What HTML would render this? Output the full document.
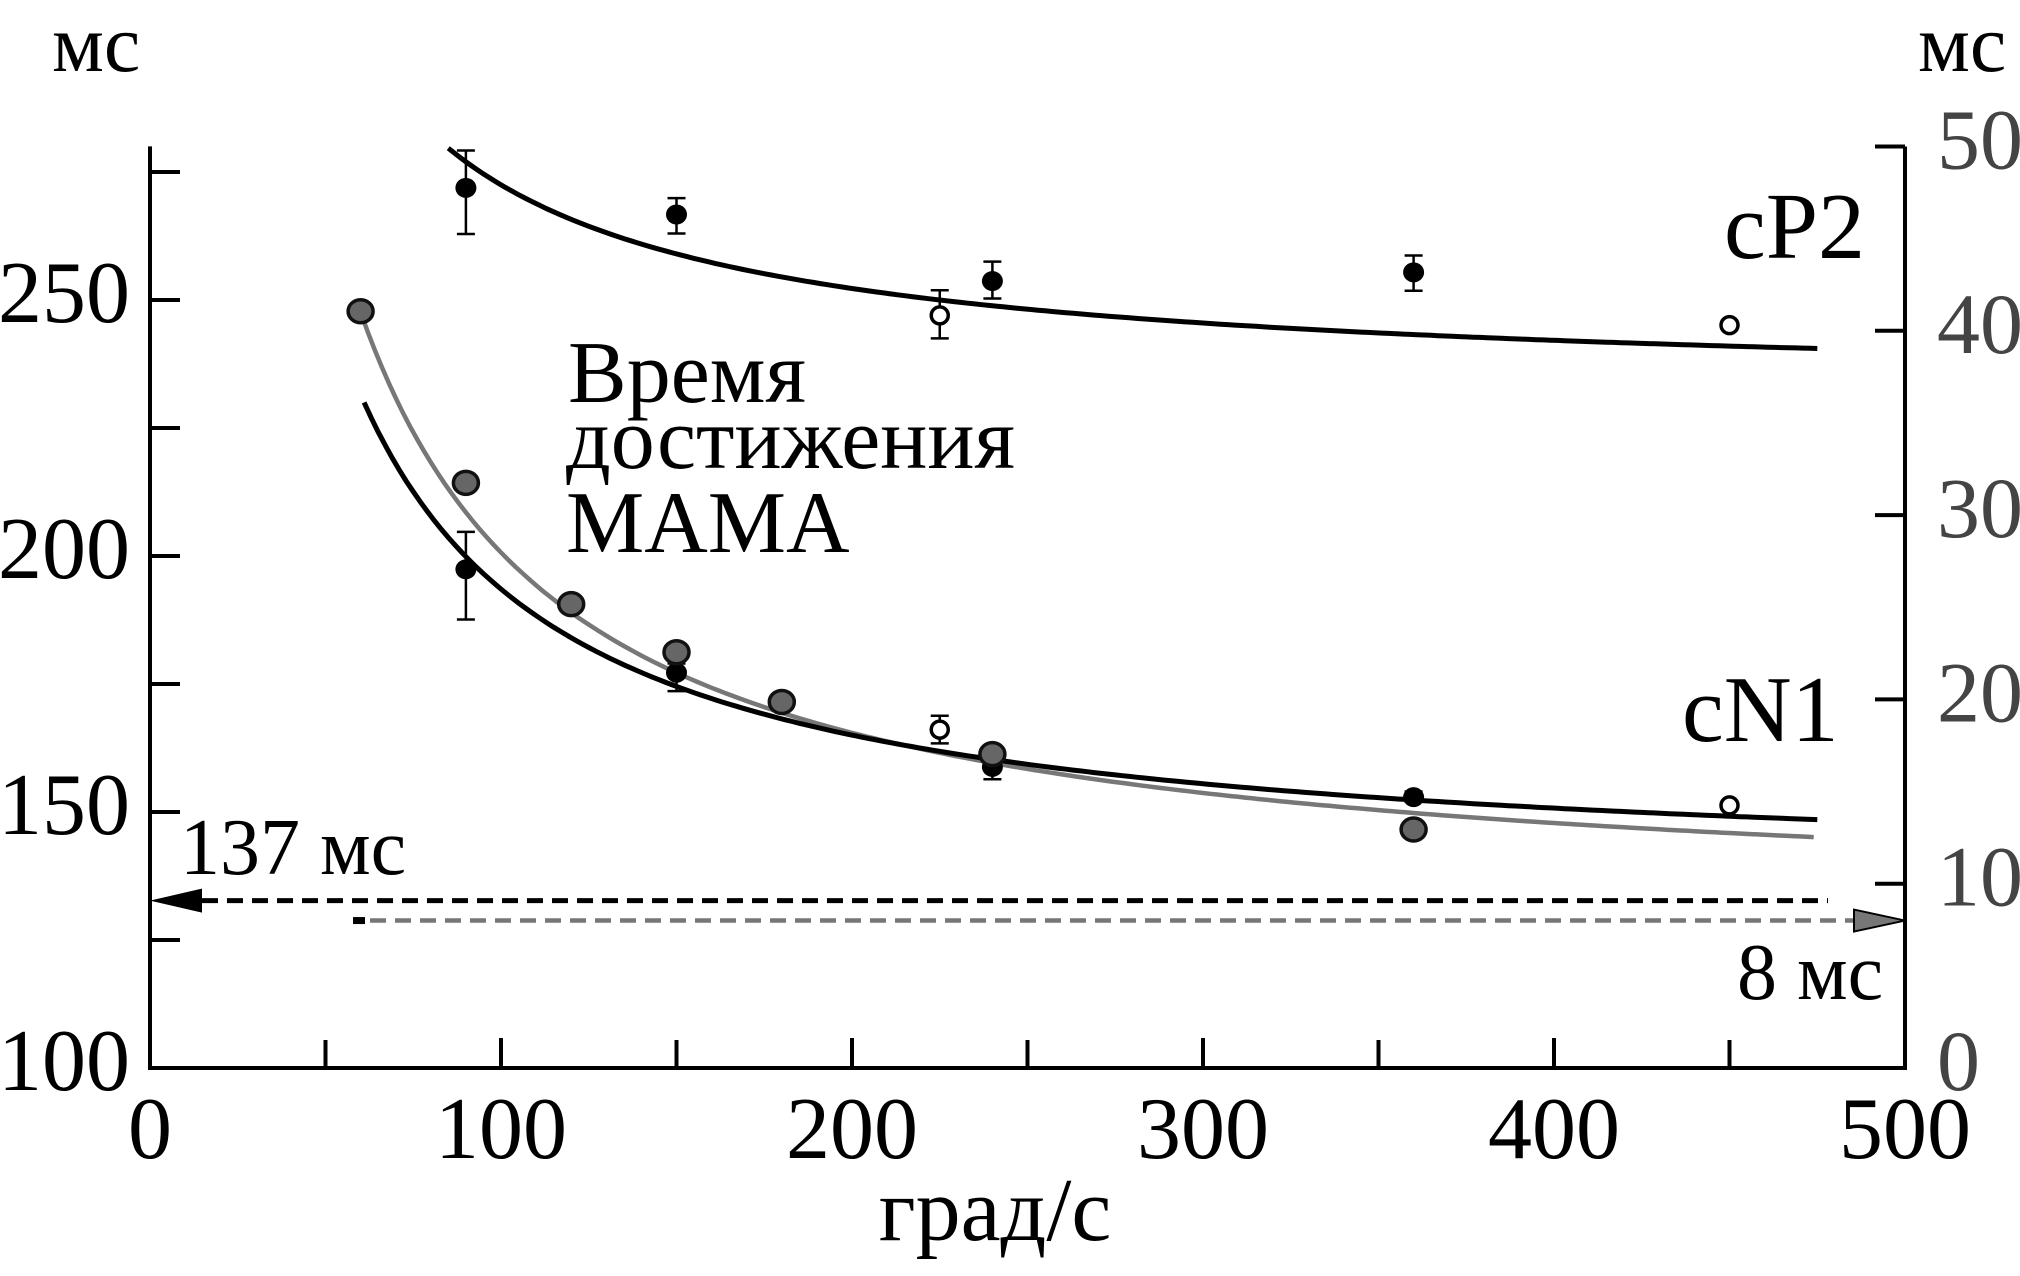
<!DOCTYPE html>
<html><head><meta charset="utf-8"><style>
html,body{margin:0;padding:0;background:#fff;}
svg{display:block;}
text{font-family:"Liberation Serif","DejaVu Serif",serif;}
</style></head>
<body>
<svg id="chart" width="2020" height="1276" viewBox="0 0 2020 1276" xmlns="http://www.w3.org/2000/svg">
<g id="axes"></g>
<g id="curves"></g>
<g id="marks"></g>
<text x="52" y="71" font-size="82">мс</text>
<text x="1918" y="71" font-size="82">мс</text>
<text x="995" y="1240" font-size="90" text-anchor="middle">град/с</text>
<text x="1724" y="258" font-size="94">cP2</text>
<text x="1682" y="741" font-size="94">cN1</text>
<text x="568" y="402" font-size="88">Время</text>
<text x="566" y="468" font-size="88">достижения</text>
<text x="566" y="552" font-size="88">МАМА</text>
<text x="180" y="874" font-size="80">137 мс</text>
<text x="1737" y="999" font-size="80">8 мс</text>
</svg>
<script>
// data
const xTicks = [0,100,200,300,400,500];
const xMinor = [50,150,250,350,450];
const yLeftTicks = [100,150,200,250];
const yLeftMinor = [125,175,225,275];
const yRightTicks = [0,10,20,30,40,50];
const cp2FilledX = [90,150,240,360];
const cp2FilledY = [271.9,266.7,253.7,255.4];
const cp2FilledLo = [262.9,263.0,250.3,251.8];
const cp2FilledHi = [279.2,269.9,257.5,258.7];
const cp2OpenX = [225,450];
const cp2OpenY = [247.0,245.1];
const cp2OpenLo = [242.5,245.1];
const cp2OpenHi = [251.9,245.1];
const cn1FilledX = [90,150,240,360];
const cn1FilledY = [197.4,177.2,158.8,152.9];
const cn1FilledLo = [187.6,173.6,156.4,152.0];
const cn1FilledHi = [204.7,179.0,160.9,154.0];
const cn1OpenX = [225,450];
const cn1OpenY = [166.1,151.3];
const cn1OpenLo = [163.4,151.3];
const cn1OpenHi = [168.8,151.3];
const grayX = [60,90,120,150,180,240,360];
const grayY = [41.06,31.75,25.17,22.56,19.86,17.03,12.94]; // right axis (ms)
const cp2Fit = [232.0,4050]; // a + b/x, left axis
const cn1Fit = [136.5,5704];
const grayFit = [8.4,1957];  // right axis
const cp2Range = [85,475];
const cn1Range = [61,475];
const grayRange = [60,475];
const asymLeft = 132.7;
const asymRight = 8;

const NS="http://www.w3.org/2000/svg";
const X0=150, XS=3.51, YB=1068, YL=5.12, YR=18.43;
const sx=v=>X0+v*XS;
const syL=v=>YB-(v-100)*YL;
const syR=v=>YB-v*YR;
function mk(parent,tag,attrs){const e=document.createElementNS(NS,tag);for(const k in attrs)e.setAttribute(k,attrs[k]);parent.appendChild(e);return e;}
const axes=document.getElementById('axes');
const curves=document.getElementById('curves');
const marks=document.getElementById('marks');

let e;
e=mk(axes,'path',{d:`M${sx(0)},${syL(280)} V${YB} H${sx(500)} V${syR(50)}`,fill:'none',stroke:'#000','stroke-width':4});


xTicks.forEach(t=>{
  e=mk(axes,'line',{x1:sx(t),x2:sx(t),y1:YB,y2:YB-30,stroke:'#000','stroke-width':4});
  
  
  e=mk(axes,'text',{x:sx(t),y:1158,'font-size':88,'text-anchor':'middle'});e.textContent=t;
  
  
});
xMinor.forEach(t=>{
  e=mk(axes,'line',{x1:sx(t),x2:sx(t),y1:YB,y2:YB-28,stroke:'#000','stroke-width':4});
  
  
});
yLeftTicks.forEach(t=>{
  e=mk(axes,'line',{x1:X0,x2:X0+30,y1:syL(t),y2:syL(t),stroke:'#000','stroke-width':4});
  
  
  e=mk(axes,'text',{x:130,y:syL(t)+22,'font-size':88,'text-anchor':'end'});e.textContent=t;
  
  
});
yLeftMinor.forEach(t=>{
  e=mk(axes,'line',{x1:X0,x2:X0+30,y1:syL(t),y2:syL(t),stroke:'#000','stroke-width':4});
  
  
});
yRightTicks.forEach(t=>{
  e=mk(axes,'line',{x1:sx(500),x2:sx(500)-30,y1:syR(t),y2:syR(t),stroke:'#000','stroke-width':4});
  
  
  e=mk(axes,'text',{x:1937,y:syR(t)+22,'font-size':86,fill:'#444'});e.textContent=t;
  
  
});

function curve(fit,range,sy,color,w,name){
  let d='';
  for(let v=range[0];v<=range[1];v+=2){d+=(d?'L':'M')+sx(v).toFixed(1)+','+sy(fit[0]+fit[1]/v).toFixed(1);}
  const p=mk(curves,'path',{d,fill:'none',stroke:color,'stroke-width':w});
  
  
}
curve(cp2Fit,cp2Range,syL,'#000',5,'cp2-fit-curve');
curve(grayFit,grayRange,syR,'#777',4.5,'gray-fit-curve');
curve(cn1Fit,cn1Range,syL,'#000',5,'cn1-fit-curve');

let yA=syL(asymLeft);
e=mk(curves,'line',{x1:202,x2:1828,y1:yA,y2:yA,stroke:'#000','stroke-width':5,'stroke-dasharray':'16,9'});


e=mk(curves,'polygon',{points:`${sx(0)},${yA} 202,${yA-12} 202,${yA+12}`,fill:'#000'});


let yB=syR(asymRight);
e=mk(curves,'rect',{x:353,y:yB-3.5,width:12,height:7,fill:'#000'});


e=mk(curves,'line',{x1:370,x2:1854,y1:yB,y2:yB,stroke:'#777','stroke-width':4.5,'stroke-dasharray':'16,9'});


e=mk(curves,'polygon',{points:`${sx(500)},${yB} 1854,${yB-11} 1854,${yB+11}`,fill:'#777',stroke:'#000','stroke-width':2});



function errbar(x,lo,hi){
  if(hi-lo<1)return;
  const g=mk(marks,'path',{d:`M${sx(x)-9},${syL(hi)}h18M${sx(x)},${syL(hi)}V${syL(lo)}M${sx(x)-9},${syL(lo)}h18`,stroke:'#000','stroke-width':2.5,fill:'none'});
  
  
}
function filled(xs,ys,lo,hi,name){
  xs.forEach((x,i)=>{errbar(x,lo[i],hi[i]);
    const c=mk(marks,'ellipse',{cx:sx(x),cy:syL(ys[i]),rx:10.5,ry:10,fill:'#000'});
    
    });
}
function open(xs,ys,lo,hi,name){
  xs.forEach((x,i)=>{errbar(x,lo[i],hi[i]);
    const c=mk(marks,'circle',{cx:sx(x),cy:syL(ys[i]),r:8.5,fill:'#fff',stroke:'#000','stroke-width':3.5});
    
    });
}
filled(cp2FilledX,cp2FilledY,cp2FilledLo,cp2FilledHi,'cp2-filled-point');
open(cp2OpenX,cp2OpenY,cp2OpenLo,cp2OpenHi,'cp2-open-point');
filled(cn1FilledX,cn1FilledY,cn1FilledLo,cn1FilledHi,'cn1-filled-point');
open(cn1OpenX,cn1OpenY,cn1OpenLo,cn1OpenHi,'cn1-open-point');
grayX.forEach((x,i)=>{
  const c=mk(marks,'ellipse',{cx:sx(x),cy:syR(grayY[i]),rx:12.5,ry:11.5,fill:'#666',stroke:'#111','stroke-width':3.5});
  
  
});
</script>
</body></html>
